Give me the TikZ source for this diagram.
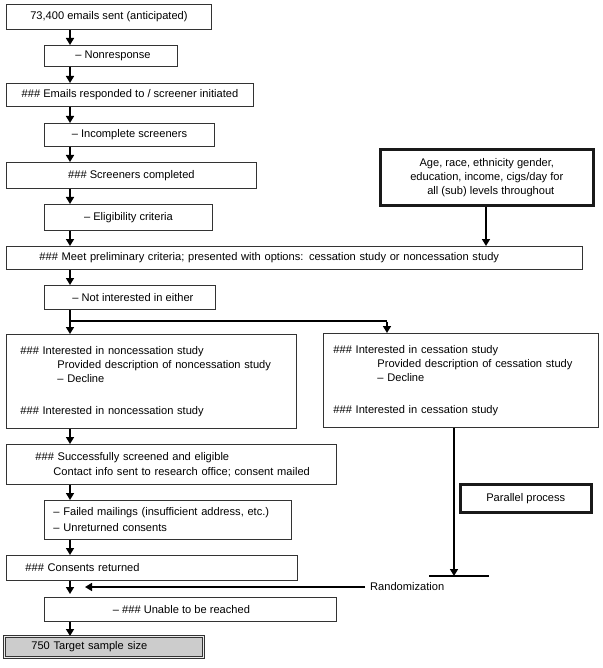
\documentclass[tikz,border=0pt]{standalone}
\usepackage{fontspec}
\setmainfont{Liberation Sans}
\usetikzlibrary{arrows.meta}
\newcommand{\hsh}{\#\#\#}

\begin{document}
\begin{tikzpicture}[x=1pt,y=-1pt,
    box/.style={draw=black!80,line width=0.9pt,anchor=north west,inner sep=0pt,
      font=\fontsize{11.1}{14}\selectfont},
    lbox/.style={box,align=left},
    thickbox/.style={box,line width=2.6pt,draw=black!90},
    arr/.style={line width=1.6pt,-{Triangle[length=7pt,width=8pt]}}]
  \useasboundingbox (0,0) rectangle (602,668);
  \coordinate (spine) at (70,0);
  % main column
  \node [box,minimum width=205,minimum height=25] (sent) at (6,4) {73,400 emails sent (anticipated)};
  \node [box,minimum width=133,minimum height=21] (nonresp) at (44,45) {\hspace*{4pt}– Nonresponse};
  \node [box,minimum width=247,minimum height=23] (emails) at (6,83) {\hsh{} Emails responded to / screener initiated};
  \node [box,minimum width=170,minimum height=23] (incompl) at (44,123) {– Incomplete screeners};
  \node [box,minimum width=250,minimum height=26] (scrdone) at (6,162) {\hsh{} Screeners completed};
  \node [box,minimum width=168,minimum height=26] (elig) at (44,204) {– Eligibility criteria};
  \node [lbox,minimum width=576,minimum height=23,text width=576] (meet) at (6,246)
    {\hspace*{33pt}\hsh{} Meet preliminary criteria; presented with options: cessation study or noncessation study};
  \node [box,minimum width=171,minimum height=24] (notint) at (44,285) {\hspace*{6pt}– Not interested in either};
  \node [lbox,minimum width=290,minimum height=94,text width=290] (nonc) at (6,334)
    {\hspace*{14pt}\hsh{} Interested in noncessation study\\
     \hspace*{51pt}Provided description of noncessation study\\
     \hspace*{51pt}– Decline\\[18pt]
     \hspace*{14pt}\hsh{} Interested in noncessation study};
  \node [lbox,minimum width=275,minimum height=94,text width=275] (cess) at (323,333)
    {\hspace*{10pt}\hsh{} Interested in cessation study\\
     \hspace*{54pt}Provided description of cessation study\\
     \hspace*{54pt}– Decline\\[18pt]
     \hspace*{10pt}\hsh{} Interested in cessation study};
  \node [lbox,minimum width=330,minimum height=40,text width=330] (success) at (6,444)
    {\hspace*{29pt}\hsh{} Successfully screened and eligible\\[1pt]
     \hspace*{47pt}Contact info sent to research office; consent mailed};
  \node [lbox,minimum width=247,minimum height=39,text width=247] (failed) at (44,500)
    {\hspace*{9pt}– Failed mailings (insufficient address, etc.)\\[2pt]
     \hspace*{9pt}– Unreturned consents};
  \node [lbox,minimum width=291,minimum height=25,text width=291] (consent) at (6,555)
    {\hspace*{19pt}\hsh{} Consents returned};
  \node [box,minimum width=292,minimum height=24] (unable) at (44,597) {– \hsh{} Unable to be reached\hspace*{18pt}};
  \node [lbox,minimum width=199,minimum height=21,text width=199,fill=black!20,
    double=black!8,double distance=1.4pt,line width=0.7pt] (target) at (4,636)
    {\hspace*{27pt}750 Target sample size};
  % side boxes
  \node [thickbox,align=center,minimum width=213,minimum height=56] (age) at (379,148)
    {Age, race, ethnicity gender,\\ education, income, cigs/day for\\ \hspace*{8pt}all (sub) levels throughout};
  \node [thickbox,minimum width=131,minimum height=28] (par) at (459,483) {Parallel process};
  \node [font=\fontsize{11.1}{14}\selectfont,anchor=west,inner sep=0pt] (rand) at (370,587) {Randomization};
  % connectors
  \foreach \a/\b in {sent/nonresp,nonresp/emails,emails/incompl,incompl/scrdone,
      scrdone/elig,elig/meet,meet/notint,notint/nonc,nonc/success,success/failed,
      failed/consent,unable/target}
    \draw [arr] (\a.south -| spine) -- (\b.north -| spine);
  \draw [arr] (age.south -| 486,0) -- (meet.north -| 486,0);
  \draw [line width=1.6pt] (notint.south -| spine) ++(0,11) -- ++(317,0) coordinate (br);
  \draw [arr] ([yshift=-0.8pt]br) -- (cess.north -| br);
  \coordinate (bar) at (454,576);
  \draw [arr] (cess.south -| bar) -- (bar);
  \draw [line width=1.6pt] ([xshift=-25pt]bar) -- ([xshift=35pt]bar);
  \coordinate (join) at (70,594);
  \draw [arr] (consent.south -| spine) -- (join);
  \draw [arr] ([xshift=-5pt]rand.west) -- ([xshift=15pt]join |- rand.west);
\end{tikzpicture}
\end{document}
